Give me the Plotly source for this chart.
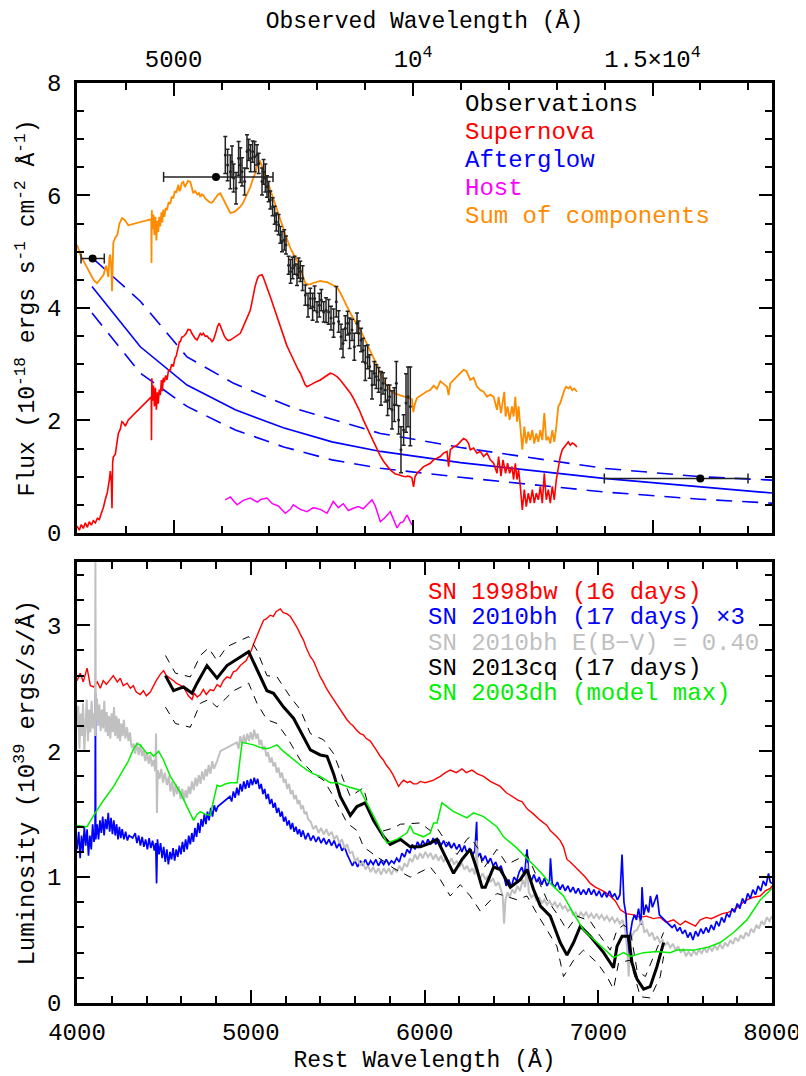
import plotly.graph_objects as go

# ---------------- TOP PANEL DATA (observed wavelength, flux 1e-18) -------------
sum_components = [(2985,5.12),(3050,4.95),(3110,4.85),(3192,4.71),(3260,4.60),(3330,4.50),(3401,4.44),(3470,4.52),(3539,4.59),(3575,4.72),(3595,4.75),(3637,4.55),(3660,4.90),(3679,4.95),(3700,4.70),(3714,4.30),(3727,5.05),(3741,5.16),(3783,5.25),(3825,5.30),(3870,5.50),(3923,5.60),(3960,5.58),(3992,5.55),(4054,5.47),
 (4534,5.58),(4538,4.80),(4545,5.74),(4560,5.40),(4580,5.66),(4600,5.30),(4620,5.62),(4640,5.20),(4660,5.55),(4680,5.35),(4700,5.62),(4722,5.45),(4745,5.70),(4764,5.52),(4785,5.75),(4806,5.62),(4835,5.78),(4862,5.74),(4895,5.88),(4931,5.85),(4960,5.98),(4994,5.95),(5025,6.08),(5056,6.05),(5080,6.16),(5098,6.19),(5120,6.08),(5140,6.10),(5170,6.22),(5203,6.24),(5235,6.15),(5265,6.20),(5300,6.26),(5349,6.24),(5380,6.12),(5411,6.04),(5450,6.08),(5495,6.02),(5530,6.04),(5557,5.98),(5590,6.02),(5620,6.00),(5660,5.95),(5703,5.92),(5750,5.88),(5802,5.87),(5850,5.92),(5891,5.98),(5930,6.02),(5975,6.04),(6020,5.96),(6079,5.85),(6130,5.76),(6184,5.69),(6240,5.70),(6288,5.72),(6340,5.76),(6393,5.80),(6445,5.86),(6497,5.95),(6550,6.05),(6601,6.15),(6650,6.28),(6705,6.40),(6740,6.52),(6775,6.60),(6800,6.62),(6831,6.55),(6860,6.46),(6894,6.40),(6920,6.34),(6950,6.28),(7000,6.15),(7040,6.05),(7100,5.90),(7159,5.74),(7210,5.60),(7269,5.45),(7320,5.32),(7367,5.21),(7410,5.12),(7457,5.03),(7500,4.97),(7541,4.91),(7590,4.82),(7645,4.70),(7700,4.57),(7750,4.44),(7800,4.42),(7854,4.42),(7900,4.44),(7958,4.45),(8010,4.47),(8063,4.48),(8130,4.47),(8203,4.46),(8250,4.44),(8292,4.42),(8350,4.40),(8411,4.37),(8480,4.27),(8543,4.15),(8620,4.03),(8689,3.91),(8740,3.83),(8793,3.75),(8845,3.68),(8898,3.61),(8950,3.52),(9002,3.43),(9055,3.34),(9107,3.25),(9160,3.15),(9211,3.05),(9265,2.95),(9316,2.84),(9380,2.72),(9441,2.62),(9510,2.55),(9587,2.49),(9660,2.47),(9733,2.45),(9790,2.44),(9837,2.42),(9890,2.41),(9942,2.40),(9975,2.38),(10004,2.15),(10040,2.30),(10081,2.40),(10150,2.44),(10219,2.48),(10290,2.52),(10359,2.54),(10428,2.62),(10499,2.56),(10568,2.70),(10637,2.65),(10708,2.60),(10741,2.45),(10777,2.66),(10846,2.72),(10917,2.78),(10985,2.84),(11054,2.90),(11111,2.88),(11159,2.80),(11194,2.72),(11263,2.76),(11334,2.60),(11403,2.54),(11472,2.51),(11543,2.42),(11612,2.46),(11681,2.42),(11751,2.19),(11785,2.42),(11835,2.13),(11877,2.36),(11904,2.51),(11931,2.07),(11973,2.25),(12015,2.01),(12065,2.25),(12098,2.07),(12134,2.42),(12169,1.98),(12203,2.25),(12238,1.89),(12280,1.48),(12322,1.89),(12363,1.59),(12405,1.80),(12447,1.65),(12489,1.83),(12530,1.59),(12572,1.77),(12614,1.62),(12656,1.83),(12697,1.65),(12739,2.13),(12781,1.65),(12823,1.71),(12864,1.59),(12906,1.83),(12948,1.62),(12990,1.89),(13031,2.25),(13073,2.31),(13115,2.42),(13157,2.54),(13198,2.60),(13240,2.57),(13282,2.60),(13324,2.54),(13365,2.57),(13421,2.51)]

supernova_top = [(2985,0.12),(3031,0.05),(3073,0.15),(3115,0.08),(3157,0.18),(3199,0.10),(3240,0.20),(3282,0.14),(3324,0.22),(3366,0.18),(3408,0.26),(3449,0.24),(3491,0.35),(3533,0.45),(3575,0.60),(3616,0.72),(3658,0.95),(3679,1.10),(3700,0.90),(3714,0.44),(3727,1.25),(3741,1.35),(3783,1.40),(3825,1.60),(3846,1.77),(3888,1.85),(3920,1.98),(3950,1.96),(3992,1.90),(4054,2.01),
 (4534,2.42),(4538,1.65),(4545,2.75),(4560,2.35),(4580,2.62),(4600,2.25),(4620,2.58),(4640,2.19),(4660,2.50),(4680,2.30),(4700,2.55),(4722,2.45),(4745,2.72),(4764,2.52),(4785,2.76),(4806,2.68),(4835,2.80),(4862,2.72),(4895,2.90),(4931,2.90),(4960,3.00),(4994,2.96),(5025,3.10),(5056,3.15),(5080,3.28),(5098,3.31),(5120,3.40),(5140,3.40),(5170,3.48),(5203,3.49),(5235,3.52),(5265,3.55),(5300,3.62),(5349,3.61),(5380,3.55),(5411,3.50),(5450,3.46),(5489,3.43),(5520,3.50),(5557,3.55),(5590,3.52),(5620,3.55),(5660,3.50),(5703,3.50),(5735,3.46),(5766,3.45),(5800,3.40),(5829,3.43),(5860,3.50),(5891,3.60),(5920,3.68),(5954,3.73),(5985,3.66),(6016,3.60),(6060,3.50),(6100,3.45),(6140,3.42),(6184,3.43),(6235,3.46),(6288,3.50),(6340,3.52),(6393,3.55),(6445,3.65),(6497,3.75),(6550,3.85),(6601,3.96),(6635,4.10),(6664,4.25),(6700,4.38),(6741,4.50),(6770,4.56),(6800,4.58),(6845,4.59),(6870,4.55),(6894,4.50),(6920,4.45),(6950,4.37),(6985,4.28),(7019,4.20),(7090,4.02),(7159,3.84),(7225,3.66),(7290,3.50),(7360,3.34),(7436,3.20),(7490,3.10),(7541,3.00),(7590,2.92),(7645,2.84),(7675,2.77),(7708,2.70),(7745,2.64),(7785,2.60),(7840,2.62),(7896,2.65),(7980,2.69),(8063,2.72),(8130,2.76),(8188,2.80),(8230,2.82),(8271,2.84),(8340,2.82),(8411,2.78),(8480,2.72),(8543,2.65),(8620,2.57),(8689,2.49),(8750,2.40),(8814,2.30),(8890,2.16),(8960,2.01),(9030,1.88),(9107,1.75),(9180,1.60),(9246,1.48),(9310,1.38),(9378,1.28),(9450,1.19),(9524,1.12),(9580,1.08),(9629,1.05),(9680,1.04),(9733,1.02),(9790,1.01),(9837,1.00),(9890,1.01),(9942,1.00),(9975,0.98),(10010,0.82),(10040,1.00),(10081,1.06),(10150,1.12),(10219,1.18),(10290,1.21),(10359,1.24),(10428,1.30),(10499,1.33),(10568,1.36),(10637,1.42),(10708,1.45),(10741,1.18),(10777,1.48),(10846,1.53),(10917,1.56),(10985,1.62),(11054,1.68),(11111,1.65),(11159,1.59),(11194,1.48),(11263,1.51),(11334,1.42),(11403,1.45),(11472,1.36),(11543,1.42),(11612,1.30),(11681,1.24),(11751,1.06),(11785,1.36),(11835,1.01),(11877,1.30),(11931,1.06),(11973,1.24),(12015,1.06),(12065,1.18),(12098,0.95),(12134,1.24),(12169,0.95),(12203,1.12),(12238,0.83),(12280,0.41),(12322,0.77),(12363,0.47),(12405,0.71),(12447,0.53),(12489,0.77),(12530,0.53),(12572,0.71),(12614,0.59),(12656,0.83),(12697,0.53),(12739,1.06),(12781,0.59),(12823,0.77),(12864,0.53),(12906,0.83),(12948,0.59),(12990,0.95),(13031,1.18),(13073,1.36),(13115,1.48),(13157,1.53),(13198,1.59),(13240,1.62),(13282,1.56),(13324,1.60),(13365,1.58),(13421,1.53)]

host_top = [(6079,0.59),(6184,0.64),(6324,0.50),(6455,0.58),(6601,0.62),(6747,0.55),(6831,0.60),(6950,0.62),(7061,0.52),(7186,0.48),(7332,0.35),(7436,0.42),(7499,0.50),(7645,0.42),(7785,0.38),(7917,0.45),(8063,0.42),(8203,0.35),(8334,0.56),(8438,0.45),(8543,0.52),(8647,0.40),(8752,0.44),(8856,0.47),(8960,0.43),(9044,0.50),(9142,0.59),(9211,0.48),(9316,0.20),(9420,0.28),(9524,0.38),(9587,0.25),(9664,0.09),(9733,0.18),(9796,0.20),(9873,0.32),(9942,0.18),(9977,0.14)]

afterglow_wave = [3296, 4305, 5280, 6288, 7290, 8307, 9321, 10991, 13977, 16003, 17493]
afterglow_flux = [4.38, 3.31, 2.63, 2.19, 1.87, 1.62, 1.45, 1.25, 0.97, 0.82, 0.71]
afterglow_hi_wave = [3330, 4305, 5280, 6253, 7505, 9316, 10987, 13977, 16003, 17493]
afterglow_hi_flux = [4.87, 4.12, 3.13, 2.66, 2.22, 1.77, 1.52, 1.15, 1.00, 0.94]
afterglow_lo_wave = [3296, 4305, 5280, 6288, 7297, 8307, 9316, 10987, 13977, 16003, 17493]
afterglow_lo_flux = [3.91, 2.84, 2.25, 1.83, 1.53, 1.30, 1.15, 0.99, 0.73, 0.60, 0.53]

# spectrum of the transient: (wavelength, flux, error)
obs_spec = [(6079,6.72,0.33),(6127,6.54,0.28),(6184,6.42,0.30),(6219,6.60,0.28),(6253,6.31,0.25),(6303,6.13,0.28),(6357,6.66,0.30),(6393,6.54,0.31),(6428,6.42,0.25),(6482,6.25,0.24),(6532,6.78,0.30),(6566,6.81,0.19),(6608,6.66,0.24),(6650,6.78,0.19),(6691,6.69,0.27),(6741,6.72,0.18),(6775,6.57,0.18),(6846,6.25,0.24),(6879,6.42,0.22),(6915,6.31,0.25),(6950,6.16,0.19),(6984,6.07,0.18),(7019,5.92,0.16),(7067,5.80,0.16),(7109,5.65,0.16),(7144,5.53,0.16),(7192,5.48,0.18),(7228,5.30,0.15),(7263,5.18,0.18),(7311,5.21,0.18),(7346,5.12,0.16),(7401,4.76,0.16),(7443,4.65,0.21),(7485,4.71,0.19),(7526,4.76,0.16),(7576,4.59,0.19),(7610,4.71,0.18),(7645,4.65,0.18),(7693,4.53,0.22),(7750,4.23,0.18),(7806,4.05,0.21),(7854,4.17,0.18),(7902,4.02,0.24),(7944,4.17,0.22),(7994,3.93,0.18),(8042,4.05,0.21),(8084,4.14,0.19),(8132,3.93,0.18),(8182,3.96,0.22),(8236,3.93,0.22),(8286,3.82,0.21),(8340,3.73,0.25),(8397,4.11,0.27),(8445,3.76,0.19),(8495,3.49,0.22),(8537,3.37,0.25),(8585,3.64,0.22),(8633,3.73,0.21),(8675,3.55,0.27),(8725,3.61,0.19),(8773,3.31,0.24),(8829,3.73,0.18),(8863,3.55,0.22),(8913,3.43,0.21),(8954,3.25,0.21),(9002,3.02,0.31),(9050,3.13,0.21),(9092,2.96,0.21),(9142,2.63,0.25),(9190,2.84,0.21),(9232,2.78,0.21),(9280,2.72,0.22),(9330,2.57,0.30),(9372,2.66,0.19),(9420,2.54,0.21),(9468,2.36,0.27),(9510,2.42,0.21),(9560,2.19,0.34),(9608,2.28,0.30),(9650,2.66,0.39),(9697,2.01,0.25),(9747,1.48,0.41),(9802,1.83,0.27),(9852,2.31,0.52),(9894,2.42,0.53),(9942,2.25,0.70)]

# broad-band photometry: (wavelength, flux, minus, plus)
obs_phot = [(3309,4.88,242,244),(5885,6.33,1094,1190),(15996,0.97,2004,996)]

# ---------------- BOTTOM PANEL DATA (rest wavelength, 1e39 erg/s/A) -------------
sn1998bw = [(4000,2.56),(4019,2.62),(4036,2.55),(4058,2.66),(4077,2.52),(4096,2.51),(4117,2.55),(4134,2.50),(4151,2.56),(4169,2.53),(4192,2.57),(4209,2.60),(4232,2.55),(4249,2.58),(4266,2.52),(4288,2.54),(4307,2.50),(4324,2.52),(4341,2.47),(4364,2.45),(4382,2.48),(4399,2.44),(4422,2.47),(4439,2.52),(4456,2.56),(4479,2.61),(4498,2.64),(4514,2.60),(4537,2.58),(4556,2.56),(4571,2.54),(4594,2.52),(4613,2.51),(4629,2.47),(4641,2.44),(4662,2.41),(4675,2.46),(4692,2.43),(4710,2.45),(4727,2.49),(4744,2.45),(4767,2.49),(4786,2.48),(4807,2.53),(4825,2.51),(4842,2.56),(4863,2.59),(4882,2.58),(4900,2.63),(4917,2.64),(4940,2.68),(4957,2.70),(4974,2.72),(4988,2.76),(5003,2.80),(5016,2.85),(5032,2.91),(5049,2.96),(5074,3.04),(5089,3.05),(5112,3.08),(5130,3.07),(5147,3.11),(5170,3.13),(5187,3.10),(5209,3.09),(5228,3.07),(5247,3.03),(5268,2.98),(5285,2.93),(5304,2.88),(5320,2.82),(5343,2.75),(5360,2.72),(5377,2.66),(5400,2.59),(5417,2.55),(5435,2.50),(5458,2.45),(5477,2.41),(5498,2.36),(5515,2.33),(5533,2.29),(5554,2.25),(5573,2.22),(5590,2.20),(5607,2.17),(5630,2.14),(5648,2.13),(5665,2.10),(5688,2.08),(5705,2.04),(5722,2.01),(5745,1.96),(5763,1.93),(5780,1.89),(5803,1.85),(5820,1.81),(5838,1.76),(5851,1.72),(5866,1.75),(5880,1.77),(5901,1.75),(5918,1.76),(5936,1.74),(5957,1.74),(5976,1.76),(6004,1.75),(6052,1.77),(6091,1.80),(6120,1.83),(6148,1.85),(6183,1.83),(6216,1.86),(6240,1.83),(6273,1.85),(6304,1.82),(6340,1.80),(6379,1.76),(6407,1.74),(6436,1.72),(6471,1.67),(6513,1.63),(6540,1.61),(6561,1.60),(6592,1.54),(6628,1.50),(6667,1.45),(6705,1.41),(6724,1.37),(6762,1.32),(6781,1.29),(6800,1.24),(6820,1.14),(6839,1.12),(6868,1.08),(6897,1.04),(6925,1.00),(6954,0.95),(6983,0.92),(7012,0.90),(7040,0.88),(7069,0.85),(7098,0.81),(7127,0.74),(7161,0.71),(7203,0.70),(7242,0.68),(7276,0.69),(7318,0.67),(7357,0.68),(7391,0.64),(7433,0.66),(7472,0.62),(7501,0.65),(7530,0.63),(7559,0.61),(7587,0.66),(7622,0.68),(7650,0.67),(7683,0.69),(7714,0.71),(7748,0.72),(7779,0.74),(7817,0.78),(7856,0.82),(7892,0.84),(7932,0.85),(7961,0.89),(7990,0.91),(8000,0.93)]

sn2010bh = [(4000,1.22),(4010,1.36),(4018,1.15),(4026,1.33),(4034,1.20),(4042,1.40),(4050,1.25),(4058,1.38),(4066,1.17),(4074,1.33),(4082,1.22),(4090,1.42),(4098,1.28),(4104,1.35),(4106,2.46),(4108,1.30),(4116,1.42),(4124,1.30),(4132,1.45),(4140,1.35),(4148,1.48),(4156,1.33),(4164,1.46),(4172,1.38),(4180,1.51),(4188,1.36),(4196,1.47),(4204,1.34),(4212,1.45),(4220,1.33),(4228,1.42),(4236,1.30),(4244,1.40),(4252,1.31),(4260,1.38),(4270,1.30),(4280,1.36),(4290,1.29),(4300,1.33),(4320,1.31),(4335,1.35),(4345,1.27),(4355,1.33),(4365,1.25),(4375,1.32),(4385,1.24),(4395,1.30),(4405,1.22),(4415,1.31),(4425,1.23),(4435,1.29),(4445,1.21),(4453,1.27),(4458,0.95),(4463,1.30),(4472,1.18),(4481,1.27),(4490,1.15),(4499,1.24),(4508,1.12),(4517,1.22),(4526,1.10),(4535,1.20),(4544,1.14),(4553,1.23),(4562,1.13),(4571,1.22),(4580,1.16),(4589,1.25),(4598,1.18),(4607,1.28),(4616,1.20),(4625,1.30),(4634,1.22),(4643,1.33),(4652,1.26),(4661,1.35),(4670,1.28),(4679,1.39),(4688,1.32),(4697,1.43),(4706,1.35),(4715,1.46),(4724,1.40),(4733,1.50),(4742,1.42),(4751,1.52),(4760,1.45),(4770,1.55),(4780,1.48),(4790,1.57),(4800,1.52),(4810,1.56),(4880,1.64),(4890,1.60),(4900,1.68),(4910,1.63),(4920,1.71),(4930,1.65),(4940,1.74),(4950,1.68),(4960,1.76),(4970,1.70),(4980,1.77),(4990,1.71),(5000,1.78),(5010,1.73),(5020,1.79),(5030,1.74),(5040,1.78),(5050,1.70),(5060,1.74),(5070,1.66),(5080,1.70),(5090,1.62),(5100,1.66),(5110,1.58),(5120,1.62),(5130,1.55),(5140,1.59),(5150,1.51),(5160,1.55),(5170,1.48),(5180,1.52),(5190,1.44),(5200,1.48),(5210,1.41),(5220,1.45),(5230,1.38),(5240,1.43),(5250,1.36),(5260,1.40),(5270,1.34),(5280,1.38),(5290,1.32),(5300,1.37),(5315,1.30),(5330,1.35),(5345,1.29),(5360,1.33),(5375,1.28),(5390,1.32),(5405,1.27),(5420,1.31),(5435,1.26),(5450,1.30),(5465,1.25),(5480,1.29),(5495,1.23),(5510,1.27),(5525,1.21),(5540,1.24),(5555,1.18),(5570,1.14),(5585,1.09),(5600,1.13),(5615,1.08),(5630,1.13),(5645,1.10),(5660,1.14),(5675,1.09),(5690,1.13),(5705,1.10),(5720,1.14),(5735,1.09),(5750,1.13),(5765,1.10),(5780,1.14),(5795,1.10),(5810,1.13),(5825,1.11),(5840,1.15),(5855,1.12),(5870,1.19),(5885,1.16),(5900,1.22),(5915,1.19),(5930,1.26),(5945,1.22),(5960,1.28),(5975,1.24),(5990,1.29),(6005,1.25),(6020,1.30),(6035,1.26),(6050,1.31),(6065,1.26),(6080,1.30),(6095,1.25),(6110,1.29),(6125,1.24),(6140,1.28),(6155,1.23),(6170,1.27),(6185,1.22),(6200,1.26),(6215,1.20),(6230,1.25),(6245,1.19),(6260,1.23),(6275,1.17),(6290,1.21),(6300,1.44),(6305,1.16),(6320,1.19),(6335,1.13),(6350,1.17),(6365,1.11),(6380,1.15),(6395,1.09),(6410,1.12),(6425,1.06),(6440,1.09),(6455,1.02),(6470,0.93),(6485,0.98),(6500,0.92),(6515,1.00),(6530,0.97),(6545,1.04),(6560,1.08),(6575,1.01),(6590,1.22),(6600,1.03),(6615,0.97),(6630,1.02),(6645,0.96),(6660,1.00),(6675,0.94),(6690,0.99),(6705,0.93),(6720,0.97),(6725,1.15),(6735,0.95),(6750,0.92),(6765,0.96),(6780,0.90),(6795,0.94),(6810,0.89),(6825,0.93),(6840,0.88),(6855,0.92),(6870,0.87),(6885,0.91),(6900,0.86),(6915,0.90),(6930,0.86),(6945,0.91),(6960,0.86),(6975,0.90),(6990,0.85),(7005,0.89),(7020,0.84),(7035,0.88),(7050,0.84),(7065,0.89),(7080,0.84),(7095,0.87),(7110,0.82),(7125,0.86),(7137,1.18),(7148,0.80),(7160,0.70),(7172,0.35),(7184,0.55),(7196,0.65),(7208,0.70),(7220,0.66),(7232,0.75),(7246,0.62),(7252,0.92),(7262,0.70),(7275,0.78),(7290,0.72),(7300,0.85),(7312,0.76),(7325,0.82),(7338,0.86),(7352,0.70),(7366,0.68),(7380,0.66),(7395,0.64),(7410,0.62),(7425,0.60),(7440,0.62),(7455,0.57),(7470,0.60),(7485,0.55),(7500,0.58),(7515,0.52),(7530,0.56),(7545,0.50),(7560,0.57),(7575,0.53),(7590,0.59),(7605,0.55),(7620,0.60),(7635,0.56),(7650,0.62),(7665,0.58),(7680,0.65),(7695,0.61),(7710,0.68),(7725,0.64),(7740,0.71),(7755,0.68),(7770,0.75),(7785,0.72),(7800,0.79),(7815,0.75),(7830,0.83),(7845,0.79),(7860,0.87),(7875,0.83),(7890,0.90),(7905,0.86),(7920,0.93),(7935,0.89),(7950,0.97),(7965,0.93),(7980,1.03),(7990,0.96),(8000,0.95)]

sn2010bh_red = [(4000,2.19),(4007,2.36),(4014,2.02),(4021,2.30),(4028,2.12),(4035,2.38),(4042,2.00),(4049,2.27),(4056,2.41),(4063,2.08),(4070,2.33),(4077,2.15),(4084,2.40),(4091,2.18),(4098,2.30),(4104,2.12),(4106,3.55),(4108,2.25),(4115,2.42),(4122,2.20),(4129,2.37),(4136,2.16),(4143,2.33),(4150,2.18),(4157,2.40),(4164,2.15),(4171,2.31),(4178,2.12),(4185,2.28),(4192,2.10),(4199,2.30),(4206,2.15),(4213,2.35),(4220,2.12),(4227,2.28),(4234,2.10),(4241,2.26),(4248,2.08),(4255,2.22),(4262,2.12),(4270,2.25),(4278,2.10),(4288,2.19),(4296,2.08),(4305,2.15),(4314,2.03),(4326,2.06),(4335,1.98),(4345,2.07),(4355,1.97),(4365,2.05),(4374,1.96),(4383,2.01),(4393,1.92),(4403,1.99),(4413,1.90),(4422,1.97),(4431,1.88),(4441,1.93),(4450,1.84),(4455,2.14),(4460,1.51),(4465,1.85),(4475,1.78),(4485,1.86),(4495,1.75),(4505,1.83),(4518,1.73),(4528,1.80),(4538,1.68),(4548,1.76),(4558,1.64),(4568,1.74),(4576,1.66),(4586,1.72),(4596,1.62),(4606,1.70),(4616,1.61),(4625,1.69),(4633,1.63),(4643,1.72),(4652,1.66),(4662,1.76),(4672,1.69),(4682,1.79),(4691,1.72),(4701,1.81),(4711,1.74),(4720,1.84),(4730,1.77),(4740,1.86),(4748,1.80),(4758,1.89),(4768,1.82),(4778,1.92),(4788,1.86),(4806,1.92),(4825,2.00),(4920,2.07),(4930,2.02),(4940,2.12),(4950,2.05),(4960,2.13),(4970,2.06),(4980,2.14),(4990,2.08),(5000,2.15),(5010,2.09),(5020,2.17),(5030,2.10),(5040,2.14),(5050,2.05),(5060,2.09),(5070,2.01),(5080,2.04),(5090,1.96),(5100,1.99),(5110,1.91),(5120,1.95),(5130,1.88),(5140,1.91),(5150,1.83),(5160,1.87),(5170,1.79),(5180,1.83),(5190,1.75),(5200,1.78),(5210,1.70),(5220,1.74),(5230,1.66),(5240,1.69),(5250,1.62),(5260,1.65),(5270,1.58),(5280,1.61),(5290,1.54),(5300,1.57),(5310,1.50),(5320,1.52),(5330,1.46),(5345,1.44),(5360,1.38),(5375,1.41),(5390,1.35),(5405,1.39),(5420,1.34),(5435,1.38),(5450,1.33),(5465,1.36),(5480,1.30),(5495,1.33),(5510,1.27),(5525,1.30),(5540,1.23),(5555,1.26),(5570,1.19),(5585,1.20),(5600,1.13),(5615,1.15),(5630,1.09),(5645,1.12),(5660,1.06),(5675,1.09),(5690,1.04),(5705,1.08),(5720,1.03),(5735,1.07),(5750,1.02),(5765,1.07),(5780,1.03),(5795,1.07),(5810,1.02),(5825,1.07),(5840,1.04),(5855,1.09),(5870,1.05),(5885,1.11),(5900,1.08),(5915,1.15),(5930,1.12),(5945,1.18),(5960,1.14),(5975,1.19),(5990,1.15),(6005,1.20),(6020,1.16),(6035,1.19),(6050,1.14),(6065,1.18),(6080,1.13),(6095,1.17),(6110,1.12),(6125,1.16),(6140,1.11),(6155,1.15),(6170,1.10),(6185,1.13),(6200,1.08),(6215,1.11),(6230,1.06),(6245,1.09),(6260,1.04),(6275,1.07),(6290,1.02),(6300,1.29),(6306,1.03),(6320,0.99),(6335,1.03),(6350,0.98),(6365,1.01),(6380,0.96),(6395,0.99),(6410,0.93),(6425,0.96),(6440,0.90),(6450,0.85),(6458,0.63),(6466,0.82),(6478,0.88),(6490,0.84),(6505,0.90),(6520,0.87),(6535,0.93),(6550,0.89),(6565,0.98),(6580,0.92),(6590,1.11),(6600,0.88),(6615,0.84),(6630,0.86),(6645,0.81),(6660,0.84),(6675,0.79),(6690,0.82),(6705,0.78),(6720,0.81),(6735,0.77),(6750,0.80),(6765,0.76),(6780,0.79),(6795,0.75),(6810,0.77),(6825,0.73),(6840,0.75),(6855,0.70),(6870,0.72),(6885,0.68),(6900,0.72),(6915,0.69),(6930,0.72),(6945,0.68),(6960,0.71),(6975,0.67),(6990,0.71),(7005,0.67),(7020,0.70),(7035,0.66),(7050,0.69),(7065,0.65),(7080,0.68),(7095,0.64),(7110,0.67),(7125,0.63),(7140,0.66),(7155,0.58),(7168,0.40),(7175,0.21),(7184,0.45),(7194,0.53),(7208,0.57),(7223,0.58),(7238,0.62),(7252,0.66),(7265,0.56),(7280,0.58),(7295,0.53),(7310,0.56),(7325,0.50),(7340,0.53),(7355,0.48),(7370,0.50),(7385,0.46),(7400,0.48),(7415,0.44),(7430,0.47),(7445,0.42),(7460,0.45),(7475,0.40),(7490,0.43),(7505,0.37),(7520,0.41),(7535,0.37),(7550,0.42),(7565,0.38),(7580,0.43),(7595,0.39),(7610,0.44),(7625,0.40),(7640,0.45),(7655,0.41),(7670,0.46),(7685,0.42),(7700,0.47),(7715,0.43),(7730,0.48),(7745,0.45),(7760,0.50),(7775,0.47),(7790,0.52),(7805,0.49),(7820,0.54),(7835,0.51),(7850,0.56),(7865,0.53),(7880,0.59),(7895,0.56),(7910,0.62),(7925,0.59),(7940,0.65),(7955,0.62),(7970,0.68),(7985,0.65),(8000,0.69)]

sn2013cq = [(4509,2.60),(4556,2.48),(4613,2.51),(4662,2.46),(4691,2.54),(4748,2.68),(4806,2.58),(4863,2.68),(4988,2.79),(5016,2.71),(5055,2.59),(5093,2.48),(5131,2.46),(5189,2.35),(5247,2.26),(5304,2.11),(5343,2.01),(5400,1.97),(5439,1.96),(5477,1.82),(5515,1.64),(5573,1.49),(5611,1.56),(5659,1.59),(5707,1.45),(5765,1.32),(5803,1.26),(5861,1.30),(5918,1.24),(5976,1.24),(6033,1.27),(6072,1.30),(6120,1.16),(6167,1.03),(6216,1.14),(6263,1.22),(6302,1.06),(6331,0.92),(6350,0.92),(6398,1.08),(6436,1.06),(6494,0.92),(6551,0.98),(6590,1.06),(6628,0.90),(6667,0.77),(6724,0.69),(6781,0.48),(6820,0.38),(6858,0.48),(6897,0.61),(6954,0.53),(7031,0.40),(7088,0.28),(7108,0.45),(7137,0.53),(7175,0.53),(7194,0.32),(7223,0.19),(7261,0.11),(7299,0.13),(7338,0.29),(7376,0.48)]
sn2013cq_hi = [(4509,2.76),(4566,2.62),(4652,2.59),(4710,2.76),(4757,2.82),(4806,2.72),(4863,2.83),(4988,2.91),(5036,2.80),(5093,2.60),(5151,2.59),(5228,2.43),(5285,2.33),(5343,2.14),(5419,2.09),(5477,1.98),(5534,1.77),(5573,1.64),(5649,1.71),(5688,1.51),(5745,1.36),(5822,1.39),(5861,1.42),(5976,1.43),(6033,1.37),(6072,1.39),(6129,1.27),(6187,1.18),(6244,1.30),(6263,1.32),(6311,1.22),(6340,1.07),(6417,1.22),(6475,1.10),(6590,1.18),(6647,1.00),(6705,0.82),(6762,0.71),(6820,0.58),(6877,0.69),(6954,0.65),(7012,0.53),(7069,0.42),(7108,0.58),(7146,0.62),(7184,0.58),(7223,0.26),(7271,0.21),(7328,0.40),(7376,0.56)]
sn2013cq_lo = [(4509,2.35),(4566,2.22),(4652,2.19),(4710,2.38),(4757,2.41),(4806,2.35),(4901,2.48),(4988,2.54),(5036,2.38),(5093,2.25),(5151,2.22),(5209,2.11),(5285,1.93),(5362,1.82),(5419,1.77),(5477,1.64),(5554,1.43),(5611,1.37),(5649,1.24),(5727,1.16),(5784,1.11),(5822,1.07),(5918,1.00),(6033,1.08),(6091,0.98),(6148,0.85),(6206,0.94),(6263,0.85),(6321,0.73),(6417,0.87),(6532,0.82),(6590,0.85),(6647,0.71),(6705,0.58),(6762,0.45),(6800,0.21),(6858,0.34),(6915,0.42),(6993,0.32),(7050,0.21),(7088,0.11),(7117,0.32),(7184,0.34),(7242,0.05),(7299,0.04),(7357,0.21),(7376,0.37)]

sn2003dh = [(4000,1.41),(4058,1.40),(4096,1.49),(4153,1.61),(4211,1.72),(4268,1.85),(4295,1.92),(4326,2.02),(4347,2.06),(4364,2.05),(4403,1.98),(4422,1.99),(4441,1.96),(4470,2.00),(4498,1.93),(4537,1.80),(4566,1.74),(4595,1.67),(4633,1.56),(4652,1.50),(4671,1.45),(4692,1.50),(4710,1.52),(4738,1.50),(4767,1.49),(4786,1.61),(4806,1.73),(4825,1.72),(4853,1.74),(4882,1.75),(4922,1.75),(4950,2.07),(4980,2.06),(5016,2.05),(5055,2.03),(5093,2.02),(5118,2.03),(5151,2.05),(5187,2.00),(5247,1.93),(5285,1.89),(5324,1.85),(5360,1.82),(5400,1.80),(5458,1.75),(5496,1.75),(5554,1.72),(5630,1.69),(5669,1.59),(5694,1.52),(5727,1.43),(5745,1.38),(5784,1.27),(5820,1.29),(5842,1.30),(5899,1.35),(5918,1.41),(5937,1.35),(5995,1.32),(6033,1.35),(6052,1.43),(6072,1.43),(6100,1.59),(6168,1.52),(6244,1.47),(6282,1.51),(6340,1.48),(6417,1.40),(6455,1.32),(6532,1.23),(6609,1.12),(6667,1.04),(6724,0.95),(6800,0.85),(6858,0.71),(6915,0.58),(6993,0.48),(7069,0.38),(7088,0.36),(7146,0.40),(7184,0.37),(7261,0.40),(7338,0.41),(7414,0.40),(7453,0.42),(7549,0.42),(7626,0.44),(7702,0.48),(7779,0.56),(7856,0.66),(7933,0.82),(8000,0.91)]

top_legend = [("Observations", "black"), ("Supernova", "#ff0000"), ("Afterglow", "#0000ff"),
              ("Host", "#ff00ff"), ("Sum of components", "#ff8c00")]
bottom_legend = [("SN 1998bw (16 days)", "#ff0000"), ("SN 2010bh (17 days) ×3", "#0000ff"),
                 ("SN 2010bh E(B−V) = 0.40", "#c0c0c0"), ("SN 2013cq (17 days)", "black"),
                 ("SN 2003dh (model max)", "#00ee00")]

top_xticks = [5000, 10000, 15000]
top_xticktext = ["5000", "10<sup>4</sup>", "1.5×10<sup>4</sup>"]


def unz(pairs):
    return [p[0] for p in pairs], [p[1] for p in pairs]


FONT = "Liberation Mono"
fig = go.Figure()

# ---------- top panel ----------
fig.add_trace(go.Scatter(x=afterglow_hi_wave, y=afterglow_hi_flux, mode="lines",
                         line=dict(color="#0000ff", width=1.6, dash="16px,10px"), xaxis="x", yaxis="y"))
fig.add_trace(go.Scatter(x=afterglow_lo_wave, y=afterglow_lo_flux, mode="lines",
                         line=dict(color="#0000ff", width=1.6, dash="16px,10px"), xaxis="x", yaxis="y"))
fig.add_trace(go.Scatter(x=afterglow_wave, y=afterglow_flux, mode="lines",
                         line=dict(color="#0000ff", width=1.6), xaxis="x", yaxis="y"))
x, y = unz(host_top)
fig.add_trace(go.Scatter(x=x, y=y, mode="lines", line=dict(color="#ff00ff", width=1.5), xaxis="x", yaxis="y"))
x, y = unz(supernova_top)
fig.add_trace(go.Scatter(x=x, y=y, mode="lines", line=dict(color="#ff0000", width=1.6), xaxis="x", yaxis="y"))
x, y = unz(sum_components)
fig.add_trace(go.Scatter(x=x, y=y, mode="lines", line=dict(color="#ff8c00", width=1.8), xaxis="x", yaxis="y"))
fig.add_trace(go.Scatter(x=[p[0] for p in obs_spec], y=[p[1] for p in obs_spec], mode="markers",
                         marker=dict(color="#222222", size=3),
                         error_y=dict(type="data", array=[p[2] for p in obs_spec], color="#222222", thickness=1.5, width=2),
                         xaxis="x", yaxis="y"))
fig.add_trace(go.Scatter(x=[p[0] for p in obs_phot], y=[p[1] for p in obs_phot], mode="markers",
                         marker=dict(color="black", size=8),
                         error_x=dict(type="data", symmetric=False, array=[p[3] for p in obs_phot],
                                      arrayminus=[p[2] for p in obs_phot], color="#222222", thickness=1.5, width=5),
                         xaxis="x", yaxis="y"))

# ---------- bottom panel ----------
for pairs, col, w in [(sn1998bw, "#ff0000", 1.4), (sn2010bh, "#0000ff", 1.7), (sn2010bh_red, "#c0c0c0", 2.0)]:
    x, y = unz(pairs)
    fig.add_trace(go.Scatter(x=x, y=y, mode="lines", line=dict(color=col, width=w), xaxis="x2", yaxis="y2"))
for pairs in (sn2013cq_hi, sn2013cq_lo):
    x, y = unz(pairs)
    fig.add_trace(go.Scatter(x=x, y=y, mode="lines", line=dict(color="black", width=1, dash="8px,7px"),
                             xaxis="x2", yaxis="y2"))
x, y = unz(sn2013cq)
fig.add_trace(go.Scatter(x=x, y=y, mode="lines", line=dict(color="black", width=3), xaxis="x2", yaxis="y2"))
x, y = unz(sn2003dh)
fig.add_trace(go.Scatter(x=x, y=y, mode="lines", line=dict(color="#00ee00", width=1.5), xaxis="x2", yaxis="y2"))

annotations = []
for i, (txt, col) in enumerate(top_legend):
    annotations.append(dict(text=txt, x=0.5554, y=0.9761 - i * 0.0304, xref="paper", yref="paper",
                            xanchor="left", yanchor="middle", showarrow=False,
                            font=dict(family=FONT, size=24, color=col)))
for i, (txt, col) in enumerate(bottom_legend):
    annotations.append(dict(text=txt, x=0.5022, y=0.4457 - i * 0.0272, xref="paper", yref="paper",
                            xanchor="left", yanchor="middle", showarrow=False,
                            font=dict(family=FONT, size=24, color=col)))

axis_common = dict(showline=True, linewidth=2.5, linecolor="black", mirror="ticks", ticks="inside",
                   ticklen=13, tickwidth=2, tickcolor="black", showgrid=False, zeroline=False,
                   automargin=False,
                   tickfont=dict(family=FONT, size=24, color="black"))

# the page body has an 8px default margin, so margins are shifted by 8px to
# place the plot frame where it sits in the reference window
fig.update_layout(
    width=806, height=1076, plot_bgcolor="white", paper_bgcolor="white", showlegend=False,
    margin=dict(l=69, r=42, t=75, b=81, autoexpand=False),
    annotations=annotations,
    xaxis=dict(domain=[0, 1], anchor="y", range=[2983, 17493], side="top",
               tickvals=top_xticks, ticktext=top_xticktext, ticklabelstandoff=4,
               minor=dict(dtick=1000, tick0=0, ticklen=7, tickwidth=2, ticks="inside", tickcolor="black"),
               title=dict(text="Observed Wavelength (Å)", font=dict(family=FONT, size=23, color="black"), standoff=12),
               **axis_common),
    yaxis=dict(domain=[0.5109, 1], anchor="x", range=[0, 8], dtick=2, tick0=0, ticklabelstandoff=8,
               minor=dict(dtick=0.5, tick0=0, ticklen=7, tickwidth=2, ticks="inside", tickcolor="black"),
               title=dict(text="Flux (10<sup>-18</sup> ergs s<sup>-1</sup> cm<sup>-2</sup> Å<sup>-1</sup>)",
                          font=dict(family=FONT, size=23, color="black"), standoff=6),
               **axis_common),
    xaxis2=dict(domain=[0, 1], anchor="y2", range=[4000, 8000], dtick=1000, tick0=0, ticklabelstandoff=5,
                minor=dict(dtick=200, tick0=0, ticklen=7, tickwidth=2, ticks="inside", tickcolor="black"),
                title=dict(text="Rest Wavelength (Å)", font=dict(family=FONT, size=23, color="black"), standoff=4),
                **axis_common),
    yaxis2=dict(domain=[0, 0.479], anchor="x2", range=[0, 3.5], dtick=1, tick0=0, ticklabelstandoff=8,
                minor=dict(dtick=0.2, tick0=0, ticklen=7, tickwidth=2, ticks="inside", tickcolor="black"),
                title=dict(text="Luminosity (10<sup>39</sup> ergs/s/Å)", font=dict(family=FONT, size=24, color="black"), standoff=6),
                **axis_common),
)

fig.write_html("out.html")
